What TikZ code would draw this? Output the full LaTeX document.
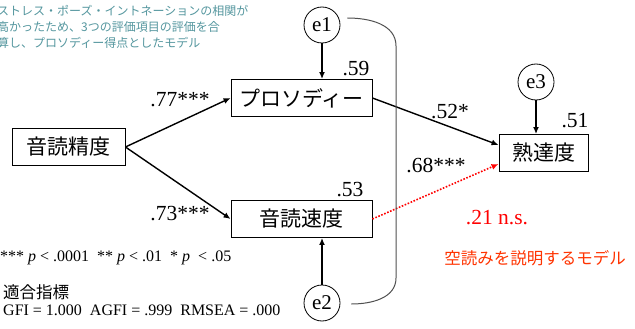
\documentclass[tikz,border=0pt]{standalone}
\usepackage{fontspec}
\setmainfont{Liberation Serif}
\newfontfamily\jp{Noto Sans CJK JP}
\usetikzlibrary{arrows.meta}
\definecolor{noteteal}{RGB}{84,150,158}
\definecolor{nsred}{RGB}{255,0,0}
\definecolor{modelred}{RGB}{255,51,0}
\definecolor{covgray}{RGB}{80,80,80}
\begin{document}
\begin{tikzpicture}[x=1pt,y=-1pt,
  varbox/.style={draw,line width=0.9pt,font=\jp\fontsize{21}{21}\selectfont,inner sep=0pt,minimum height=37pt},
  errc/.style={draw,circle,line width=0.8pt,minimum size=36pt,inner sep=0pt,font=\fontsize{21}{21}\selectfont},
  pathar/.style={line width=1.4pt,-{Latex[length=7pt,width=6pt]}},
  coef/.style={font=\fontsize{21.5}{21.5}\selectfont,inner sep=0pt},
  small/.style={font=\fontsize{16}{16}\selectfont,inner sep=0pt,anchor=west},
]
\useasboundingbox (0,0) rectangle (635,329);
% note
\node[anchor=north west,align=left,inner sep=0pt,text=noteteal,font=\jp\fontsize{12}{16}\selectfont] (note) at (-3,5)
 {ストレス・ポーズ・イントネーションの相関が\\高かったため、3つの評価項目の評価を合\\算し、プロソディー得点としたモデル};
% variables
\node[varbox,minimum width=113pt] (acc) at (68.5,147) {音読精度};
\node[varbox,minimum width=141pt] (pros) at (301.5,98) {プロソディー};
\node[varbox,minimum width=141pt] (speed) at (301.5,219) {音読速度};
\node[varbox,minimum width=89pt] (prof) at (543.5,153) {熟達度};
% errors
\node[errc] (e1) at (322,25) {\raisebox{-2pt}{e1}};
\node[errc] (e2) at (322,303) {\raisebox{-4pt}{e2}};
\node[errc] (e3) at (536,82) {\raisebox{-4pt}{e3}};
% paths
\draw[pathar] (e1.south) -- (e1.south |- pros.north);
\draw[pathar] (e2.north) -- (e2.north |- speed.south);
\draw[pathar] (e3.south) -- (e3.south |- prof.north);
\draw[pathar] (acc.east) -- (pros.west);
\draw[pathar] (acc.east) -- (speed.west);
\draw[pathar] (pros.east) -- ([yshift=8pt]prof.west);
\draw[line width=1.6pt,nsred,dash pattern=on 1.6pt off 1.6pt,-{Latex[length=7pt,width=6pt]}] (speed.east) -- ([yshift=-11pt]prof.west);
% covariance
\draw[covgray,line width=1pt] ([xshift=7pt,yshift=7pt]e1.east) to[out=0,in=90] (396,46) -- (396,278) to[out=-90,in=0] ([xshift=11pt,yshift=-1pt]e2.east);
% coefficients
\node[coef] (c77) at (180,100) {.77***};
\node[coef] (c73) at (180,214) {.73***};
\node[coef] (c59) at (356,69) {.59};
\node[coef] (c53) at (350,190) {.53};
\node[coef] (c52) at (450,112) {.52*};
\node[coef] (c68) at (436,166) {.68***};
\node[coef] (c51) at (575,121) {.51};
\node[coef,text=nsred] (c21) at (497,218) {.21 n.s.};
\node[inner sep=0pt,text=modelred,font=\jp\fontsize{16.5}{16.5}\selectfont] (model) at (535,258) {空読みを説明するモデル};
% notes bottom
\node[small] (sig) at (0,258) {*** \textit{p} < .0001\enspace ** \textit{p} < .01\enspace * \textit{p}\enspace < .05};
\node[small,font=\jp\fontsize{16.5}{16.5}\selectfont] (fit) at (3,292) {適合指標};
\node[small] (fitv) at (3,310) {GFI = 1.000\enspace AGFI = .999\enspace RMSEA = .000};
\end{tikzpicture}
\end{document}
